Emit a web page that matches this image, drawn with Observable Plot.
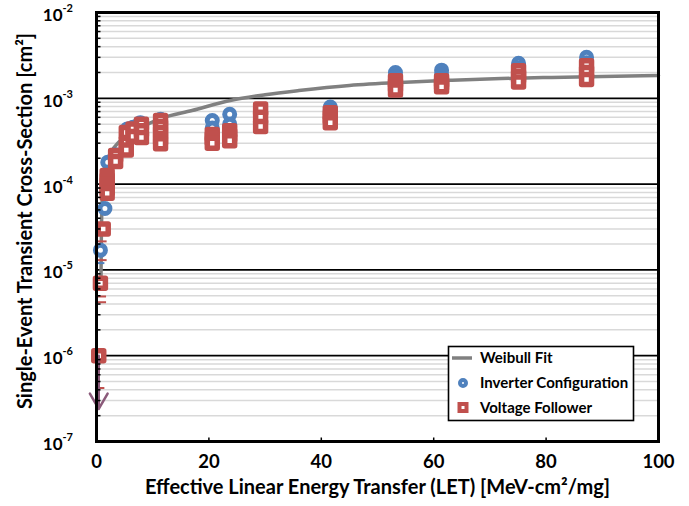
<!DOCTYPE html>
<html><head><meta charset="utf-8">
<script src="https://cdn.jsdelivr.net/npm/d3@7"></script>
<script src="https://cdn.jsdelivr.net/npm/@observablehq/plot@0.6"></script>
<style>
body{margin:0;background:#fff;}
#wrap{position:relative;width:689px;height:506px;font-family:Lato,"Open Sans",sans-serif;}
#legend{position:absolute;left:447px;top:345px;}
</style></head>
<body><div id="wrap"></div>
<script>
// Inverter Configuration (blue circles)
const invLET = [0.7, 1.5, 2.0, 3.4, 5.5, 6.5, 7.8, 11.4, 11.4, 20.6, 20.6, 20.6, 23.7, 23.7, 23.7, 29.2, 29.2, 41.6, 41.6, 41.6, 53.2, 53.2, 53.2, 61.4, 61.4, 61.4, 75.1, 75.1, 75.1, 87.2, 87.2, 87.2];
const invXS  = [1.7e-5, 5.2e-5, 1.8e-4, 2.2e-4, 4.4e-4, 4.6e-4, 5.2e-4, 5.7e-4, 4.5e-4, 5.5e-4, 4.5e-4, 3.6e-4, 6.5e-4, 5.0e-4, 4.0e-4, 7.0e-4, 5.5e-4, 7.9e-4, 7.2e-4, 6.5e-4, 2.0e-3, 1.8e-3, 1.6e-3, 2.13e-3, 1.9e-3, 1.7e-3, 2.56e-3, 2.25e-3, 2.0e-3, 3.0e-3, 2.6e-3, 2.3e-3];
// Voltage Follower (red squares)
const vfLET = [0.4, 0.7, 1.2, 1.9, 1.9, 1.9, 1.9, 1.9, 3.4, 3.4, 5.3, 5.3, 5.3, 6.5, 6.5, 8.0, 8.0, 8.0, 11.4, 11.4, 11.4, 11.4, 11.4, 20.6, 20.6, 20.6, 23.7, 23.7, 23.7, 29.2, 29.2, 29.2, 41.6, 41.6, 41.6, 53.2, 53.2, 53.2, 61.4, 61.4, 61.4, 75.1, 75.1, 75.1, 87.2, 87.2, 87.2];
const vfXS  = [1.0e-6, 7.0e-6, 3.0e-5, 1.26e-4, 1.12e-4, 1.0e-4, 8.8e-5, 7.8e-5, 2.15e-4, 1.83e-4, 4.0e-4, 3.0e-4, 2.5e-4, 4.4e-4, 3.6e-4, 5.0e-4, 4.2e-4, 3.5e-4, 5.5e-4, 4.7e-4, 4.0e-4, 3.4e-4, 2.95e-4, 3.8e-4, 3.4e-4, 3.0e-4, 4.2e-4, 3.7e-4, 3.2e-4, 7.5e-4, 6.0e-4, 4.7e-4, 6.8e-4, 6.0e-4, 5.2e-4, 1.6e-3, 1.42e-3, 1.25e-3, 1.6e-3, 1.48e-3, 1.36e-3, 2.09e-3, 1.8e-3, 1.55e-3, 2.4e-3, 2.0e-3, 1.66e-3];
// Weibull fit
const fitLET = [0.8, 0.85, 0.95, 1.2, 1.6, 2.5, 4, 6, 8, 11.4, 17, 24, 30, 36, 45, 54, 63, 72, 81, 90, 100];
const fitXS  = [8e-6, 2e-5, 5e-5, 1e-4, 1.6e-4, 2.3e-4, 3.1e-4, 3.9e-4, 4.6e-4, 5.8e-4, 7.2e-4, 9.5e-4, 1.1e-3, 1.23e-3, 1.41e-3, 1.53e-3, 1.62e-3, 1.7e-3, 1.75e-3, 1.79e-3, 1.85e-3];
// error-bar caps visible at low LET
const capVfLET = [1.0, 1.0, 0.9, 0.9, 0.6];
const capVfXS  = [2.15e-5, 1.3e-5, 4.9e-6, 4.2e-6, 4.2e-7];
const capInvLET = [0.6, 0.6];
const capInvXS  = [2.6e-5, 1.2e-5];
// upper-limit arrow
const arrowLET = [0.4];
const arrowFrom = [1.0e-6];
const arrowTo = [2.4e-7];
// axes
const xTicks = [0, 20, 40, 60, 80, 100];
const yDecades = [1e-7, 1e-6, 1e-5, 1e-4, 1e-3, 1e-2];
const yExps = ["-7", "-6", "-5", "-4", "-3", "-2"];
const xTitle = "Effective Linear Energy Transfer (LET) [MeV-cm\u00B2/mg]";
const yTitle = "Single-Event Transient Cross-Section [cm\u00B2]";

const minor = [];
for (const d of yDecades.slice(0, -1)) for (let k = 2; k <= 9; k++) minor.push(k * d);

const inv = invLET.map((l, i) => ({l, s: invXS[i]}));
const vf = vfLET.map((l, i) => ({l, s: vfXS[i]}));
const fit = fitLET.map((l, i) => ({l, s: fitXS[i]}));
const capsVf = capVfLET.map((l, i) => ({l, s: capVfXS[i]}));
const capsInv = capInvLET.map((l, i) => ({l, s: capInvXS[i]}));
const arrows = arrowLET.map((l, i) => ({l, a: arrowFrom[i], b: arrowTo[i]}));

const hTick = {draw(ctx, size) { const l = Math.sqrt(size / Math.PI); ctx.moveTo(0, 0); ctx.lineTo(l, 0); }};
const vTick = {draw(ctx, size) { const l = Math.sqrt(size / Math.PI); ctx.moveTo(0, 0); ctx.lineTo(0, -l); }};
const hCap = {draw(ctx, size) { const l = Math.sqrt(size / Math.PI); ctx.moveTo(-l, 0); ctx.lineTo(l, 0); }};

const font = "Lato, 'Open Sans', sans-serif";
const chart = Plot.plot({
  width: 689, height: 506,
  marginLeft: 96, marginRight: 31, marginTop: 12, marginBottom: 65,
  x: {domain: [0, 100], axis: null},
  y: {type: "log", domain: [1e-7, 1e-2], axis: null},
  style: {fontFamily: font, fontWeight: "bold", color: "#000", background: "#fff"},
  marks: [
    Plot.ruleY(minor, {stroke: "#d9d9d9", strokeWidth: 1.5}),
    Plot.ruleY(yDecades.slice(1, -1), {stroke: "#000", strokeWidth: 1.7}),
    Plot.line(fit, {x: "l", y: "s", stroke: "#808080", strokeWidth: 3.5, curve: "monotone-x"}),
    Plot.dot(capsInv, {x: "l", y: "s", symbol: hCap, r: 4.5, stroke: "#4F81BD", strokeWidth: 2}),
    Plot.dot(inv, {x: "l", y: "s", symbol: "circle", r: 5, stroke: "#4F81BD", strokeWidth: 5, fill: "white"}),
    Plot.dot(capsVf, {x: "l", y: "s", symbol: hCap, r: 4.5, stroke: "#C0504D", strokeWidth: 2}),
    Plot.dot(vf, {x: "l", y: "s", symbol: "square", r: 5.6, stroke: "#C0504D", strokeWidth: 5.5, fill: "white", strokeLinejoin: "round"}),
    Plot.arrow(arrows, {x1: "l", y1: "a", x2: "l", y2: "b", stroke: "#8B5A7A", strokeWidth: 2.5, headLength: 14}),
    Plot.frame({stroke: "#000", strokeWidth: 3}),
    Plot.dot(minor, {y: d => d, frameAnchor: "left", symbol: hTick, r: 4, stroke: "#000", strokeWidth: 1.5}),
    Plot.dot(xTicks.slice(1, -1), {x: d => d, frameAnchor: "bottom", symbol: vTick, r: 4, stroke: "#000", strokeWidth: 1.5}),
    Plot.text(xTicks, {x: d => d, text: d => String(d), frameAnchor: "bottom", dy: 26, fontSize: 18.5, fill: "#000"}),
    Plot.text(yDecades, {y: d => d, text: () => "10", frameAnchor: "left", dx: -34, dy: 3, textAnchor: "end", fontSize: 17, fill: "#000"}),
    Plot.text(yDecades, {y: d => d, text: yExps, frameAnchor: "left", dx: -34, dy: -4, textAnchor: "start", fontSize: 11, fill: "#000"}),
    Plot.text([xTitle], {frameAnchor: "bottom", dy: 52, textAnchor: "middle", fontSize: 20, fill: "#000"}),
    Plot.text([yTitle], {frameAnchor: "left", dx: -71, dy: -6, rotate: -90, textAnchor: "middle", fontSize: 20, fill: "#000"})
  ]
});
const wrap = document.getElementById("wrap");
wrap.appendChild(chart);

// legend (overlaid inside the plot area, as in the reference)
const legendItems = ["Weibull Fit", "Inverter Configuration", "Voltage Follower"];
const ns = "http://www.w3.org/2000/svg";
const lg = document.createElementNS(ns, "svg");
lg.setAttribute("id", "legend");
lg.setAttribute("width", 189); lg.setAttribute("height", 78);
lg.innerHTML = `
  <rect x="1.5" y="1.5" width="185" height="74" fill="#fff" stroke="#000" stroke-width="1.6"/>
  <line x1="5" x2="25" y1="13" y2="13" stroke="#808080" stroke-width="3.5"/>
  <circle cx="16" cy="38" r="3" fill="#fff" stroke="#4F81BD" stroke-width="4"/>
  <rect x="12.5" y="59" width="7" height="7" fill="#fff" stroke="#C0504D" stroke-width="4"/>
  ${legendItems.map((t, i) => `<text x="33" y="${13 + i * 25}" dy="0.35em" font-family="${font}" font-weight="bold" font-size="15" fill="#000">${t}</text>`).join("")}
`;
wrap.appendChild(lg);
</script>
</body></html>
